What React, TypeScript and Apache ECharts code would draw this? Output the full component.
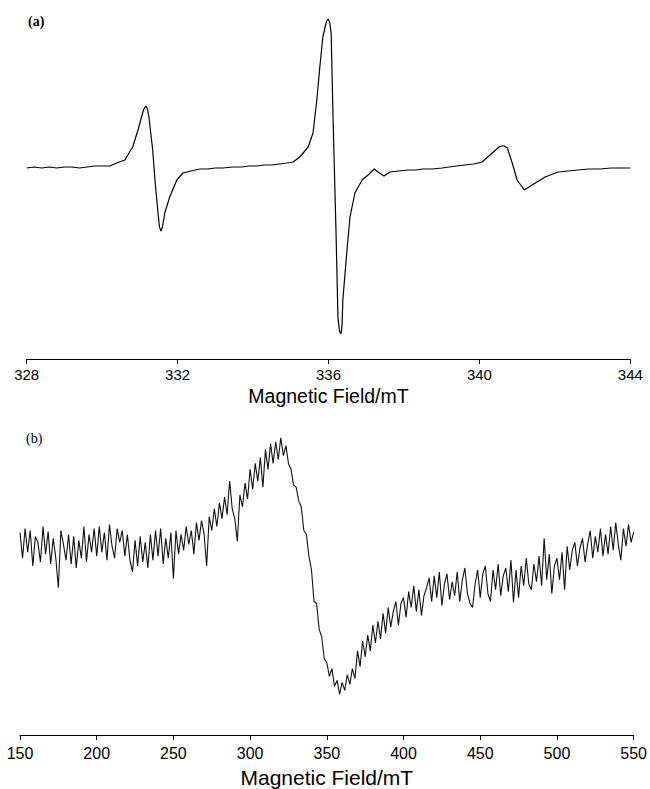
import { useEffect, useRef } from "react";
import * as echarts from "echarts";

// Panel (a): magnetic field (mT) and derivative signal (arb. units)
const fieldA = [
  328.0, 328.2, 328.4, 328.6, 328.8, 329.0, 329.2, 329.4, 329.6, 329.8, 330.0, 330.2,
  330.39, 330.6, 330.81, 330.95, 331.08, 331.12, 331.16, 331.2, 331.24, 331.34, 331.4, 331.48, 331.52, 331.56,
  331.6, 331.66, 331.79, 331.98, 332.14, 332.35, 332.59, 332.8, 333.0, 333.2, 333.47, 333.7,
  333.9, 334.1, 334.3, 334.5, 334.7, 334.9, 335.06, 335.24, 335.46, 335.59, 335.69,
  335.77, 335.85, 335.91, 335.95, 335.99, 336.03, 336.07, 336.12, 336.2, 336.25, 336.29, 336.33, 336.36, 336.38, 336.49,
  336.57, 336.7, 336.89, 337.05, 337.21, 337.31, 337.47, 337.63, 337.85, 338.11, 338.3,
  338.5, 338.75, 339.01, 339.2, 339.4, 339.62, 339.85, 340.07, 340.34, 340.52, 340.6, 340.67, 340.74,
  340.87, 341.0, 341.19, 341.4, 341.74, 342.09, 342.35, 342.62, 342.9, 343.2, 343.5,
  343.75, 344.0,
];
const signalA = [
  -1, 0, -1, 0, -1, 0, 0, -1, 0, 1, 1, 1,
  4, 7, 20, 37, 55, 59, 61, 58, 50, 17, -13, -46, -60, -64,
  -60, -46, -30, -13, -6, -4, -2, -2, -1, -1, 0, 0,
  1, 1, 2, 2, 3, 4, 5, 10, 20, 34, 67,
  100, 130, 140, 146, 148, 145, 134, 50, -66, -150, -164, -167, -158, -133, -83,
  -50, -26, -13, -8, -2, -5, -9, -5, -4, -3, -3,
  -2, -2, -1, 0, 1, 2, 3, 5, 14, 20, 21, 21, 19,
  4, -13, -23, -18, -10, -5, -4, -3, -2, -2, -1,
  -1, -1,
];

// Panel (b): field range 150–550 mT, evenly sampled noisy signal
const fieldBStart = 150;
const fieldBEnd = 550;
const signalB = [
  14, -12, 18, -6, 16, -20, 10, 4, -16, 20,
  -8, 15, -18, 8, -12, -42, 16, 2, -14, 12,
  -18, 10, -22, 6, -12, 20, -16, 12, -6, 18,
  -10, 20, -6, 14, -14, 22, 0, -12, 18, 4,
  16, -10, 12, -14, -26, 6, -20, 10, -16, 4,
  -22, 12, -14, 16, -10, 18, -18, 8, -12, 14,
  -33, 16, -8, 12, -4, 20, 2, 16, -8, 24,
  6, 26, 12, -20, 30, 16, 38, 20, 44, 28,
  50, 32, 66, 38, 28, 5, 52, 40, 64, 48,
  78, 58, 84, 66, 90, 60, 98, 78, 104, 84,
  106, 88, 110, 92, 102, 84, 78, 62, 60, 46,
  40, 16, 12, -10, -24, -56, -58, -84, -92, -114,
  -118, -132, -124, -142, -136, -150, -138, -146, -130, -140,
  -124, -134, -106, -122, -96, -112, -90, -106, -80, -98,
  -76, -94, -68, -88, -62, -82, -66, -56, -80, -58,
  -52, -72, -46, -62, -40, -66, -44, -70, -50, -42,
  -32, -56, -30, -52, -26, -60, -38, -28, -54, -36,
  -50, -26, -56, -34, -22, -48, -58, -62, -38, -24,
  -52, -28, -20, -48, -56, -24, -44, -18, -50, -30,
  -22, -46, -14, -57, -24, -52, -20, -40, -12, -38,
  -44, -18, -36, -10, -40, 8, -34, -8, -48, -20,
  -12, -34, -6, -44, 0, -24, -4, 4, -20, -2,
  8, -16, 2, 16, -12, 10, -6, 18, -10, 12,
  -8, 20, -4, 24, 2, -14, 18, 0, 22, 4, 14,
];

const xTicksA = { min: 328, max: 344, interval: 4 };
const xTicksB = { min: 150, max: 550, interval: 50 };
const axisTitle = "Magnetic Field/mT";
const panelLabels = ["(a)", "(b)"];

export default function App() {
  const ref = useRef<HTMLDivElement>(null);
  useEffect(() => {
    document.body.style.margin = "0";
    const chart = echarts.init(ref.current!, null, { renderer: "svg" });
    const dataA = fieldA.map((x, i) => [x, signalA[i]]);
    const stepB = (fieldBEnd - fieldBStart) / (signalB.length - 1);
    const dataB = signalB.map((v, i) => [fieldBStart + i * stepB, v]);
    const font = "'Liberation Sans', Arial, sans-serif";
    const axisCommon = (fs: number, margin: number, nameSize: number, gap: number) => ({
      type: "value",
      name: axisTitle,
      nameLocation: "middle",
      nameGap: gap,
      nameTextStyle: { fontFamily: font, fontSize: nameSize, color: "#000" },
      axisLine: { show: true, onZero: false, lineStyle: { color: "#000", width: 1 } },
      axisTick: { show: true, inside: false, length: 5, lineStyle: { color: "#000" } },
      axisLabel: { fontFamily: font, fontSize: fs, color: "#000", margin },
      splitLine: { show: false },
    });
    chart.setOption({
      animation: false,
      backgroundColor: "#fff",
      grid: [
        { left: 26.7, width: 603.6, top: 7, height: 352 },
        { left: 20, width: 614.3, top: 420, height: 319.3 },
      ],
      xAxis: [
        { gridIndex: 0, ...xTicksA, ...axisCommon(15, 8, 19.5, 27) },
        { gridIndex: 1, ...xTicksB, ...axisCommon(16, 10, 21, 32) },
      ],
      yAxis: [
        { gridIndex: 0, type: "value", min: -192, max: 160, show: false },
        { gridIndex: 1, type: "value", min: -191.3, max: 128, show: false },
      ],
      graphic: [
        {
          type: "text", left: 28, top: 14,
          style: { text: panelLabels[0], font: "bold 14px 'Liberation Serif', serif", fill: "#000" },
        },
        {
          type: "text", left: 26, top: 431,
          style: { text: panelLabels[1], font: "14px 'Liberation Serif', serif", fill: "#000" },
        },
      ],
      series: [
        {
          type: "line", xAxisIndex: 0, yAxisIndex: 0, data: dataA, showSymbol: false,
          lineStyle: { color: "#000", width: 1.2 }, silent: true,
        },
        {
          type: "line", xAxisIndex: 1, yAxisIndex: 1, data: dataB, showSymbol: false,
          lineStyle: { color: "#111", width: 1.1 }, silent: true,
        },
      ],
    });
    return () => chart.dispose();
  }, []);
  return <div ref={ref} style={{ width: 650, height: 789 }} />;
}
